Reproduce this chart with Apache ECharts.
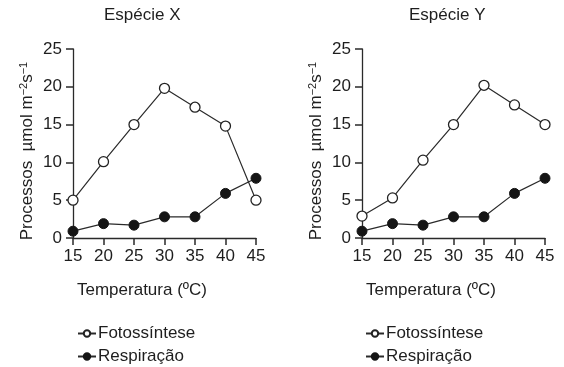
<!DOCTYPE html>
<html>
<head>
<meta charset="utf-8">
<script src="https://cdn.jsdelivr.net/npm/echarts@6/dist/echarts.min.js"></script>
<style>
html,body{margin:0;padding:0;background:#fff;}
#c{width:564px;height:367px;}
</style>
</head>
<body>
<div id="c"></div>
<script>
const temperatures = [15, 20, 25, 30, 35, 40, 45];
const fotoX = [5, 10.1, 15, 19.8, 17.3, 14.8, 5];
const respX = [0.9, 1.9, 1.7, 2.8, 2.8, 5.9, 7.9];
const fotoY = [2.9, 5.3, 10.3, 15, 20.2, 17.6, 15];
const respY = [0.9, 1.9, 1.7, 2.8, 2.8, 5.9, 7.9];
const titles = ['Espécie X', 'Espécie Y'];
const xName = 'Temperatura (ºC)';
const yName = 'Processos  µmol m{sup|−2}s{sup|−1}';
const seriesNames = ['Fotossíntese', 'Respiração'];

const FONT = 'Liberation Sans, Arial, Helvetica, sans-serif';
const TXT = '#1e1e1e';
const LINE = '#2a2a2a';

const chart = echarts.init(document.getElementById('c'));

function pairs(vals) { return temperatures.map((t, i) => [t, vals[i]]); }

function xAxis(idx) {
  return {
    type: 'value', gridIndex: idx, min: 15, max: 45, interval: 5,
    axisLine: { show: true, lineStyle: { color: LINE, width: 1.3 } },
    axisTick: { show: true, length: 7, lineStyle: { color: LINE, width: 1.5 } },
    axisLabel: { fontFamily: FONT, fontSize: 17, color: TXT, margin: 10 },
    splitLine: { show: false }
  };
}
function yAxis(idx) {
  return {
    type: 'value', gridIndex: idx, min: 0, max: 25, interval: 5,
    axisLine: { show: true, lineStyle: { color: LINE, width: 1.3 } },
    axisTick: { show: true, length: 7, lineStyle: { color: LINE, width: 1.5 } },
    axisLabel: { fontFamily: FONT, fontSize: 17, color: TXT, margin: 11 },
    splitLine: { show: false }
  };
}
function series(idx, name, vals, filled) {
  return {
    type: 'line', name: name, xAxisIndex: idx, yAxisIndex: idx,
    data: pairs(vals), symbol: 'circle', symbolSize: 10, showSymbol: true,
    lineStyle: { color: LINE, width: 1.2 },
    itemStyle: filled ? { color: '#151515', borderColor: '#151515', borderWidth: 1 }
                      : { color: '#fff', borderColor: '#222', borderWidth: 1.3 },
    z: filled ? 3 : 2,
    clip: false,
    animation: false
  };
}
function legend(left) {
  return {
    data: seriesNames, orient: 'vertical', left: left, top: 325,
    itemWidth: 18, itemHeight: 8, itemGap: 6, padding: 0,
    textStyle: { fontFamily: FONT, fontSize: 17, color: TXT, padding: [0, 0, 0, -3] },
    selectedMode: false
  };
}
function yTitle(left) {
  return { type: 'text', left: left, top: 'middle', rotation: Math.PI / 2, y: 151,
    style: { text: yName, font: '17px ' + FONT, fill: TXT, textAlign: 'center', textVerticalAlign: 'middle',
      rich: { sup: { fontFamily: FONT, fontSize: 11, fill: TXT, verticalAlign: 'top', padding: [0, 0, 7, 0] } } } };
}

chart.setOption({
  animation: false,
  grid: [
    { left: 73, top: 49, width: 183, height: 189 },
    { left: 362, top: 49, width: 183, height: 189 }
  ],
  title: [
    { text: titles[0], left: 104, top: 7, padding: 0, textStyle: { fontFamily: FONT, fontSize: 17, fontWeight: 'normal', color: TXT } },
    { text: titles[1], left: 409, top: 7, padding: 0, textStyle: { fontFamily: FONT, fontSize: 17, fontWeight: 'normal', color: TXT } },
    { text: xName, left: 77, top: 282, padding: 0, textStyle: { fontFamily: FONT, fontSize: 17, fontWeight: 'normal', color: TXT } },
    { text: xName, left: 366, top: 282, padding: 0, textStyle: { fontFamily: FONT, fontSize: 17, fontWeight: 'normal', color: TXT } }
  ],
  graphic: [
    { type: 'text', x: 27, y: 151, rotation: Math.PI / 2,
      style: { text: yName, font: '17px ' + FONT, fill: TXT, align: 'center', verticalAlign: 'middle',
        rich: { sup: { fontFamily: FONT, fontSize: 11, fill: TXT, verticalAlign: 'top', padding: [0, 0, 7, 0] } } } },
    { type: 'text', x: 316, y: 151, rotation: Math.PI / 2,
      style: { text: yName, font: '17px ' + FONT, fill: TXT, align: 'center', verticalAlign: 'middle',
        rich: { sup: { fontFamily: FONT, fontSize: 11, fill: TXT, verticalAlign: 'top', padding: [0, 0, 7, 0] } } } }
  ],
  xAxis: [xAxis(0), xAxis(1)],
  yAxis: [yAxis(0), yAxis(1)],
  legend: [legend(77), legend(365)],
  series: [
    series(0, seriesNames[0], fotoX, false),
    series(0, seriesNames[1], respX, true),
    series(1, seriesNames[0], fotoY, false),
    series(1, seriesNames[1], respY, true)
  ]
});
</script>
</body>
</html>
